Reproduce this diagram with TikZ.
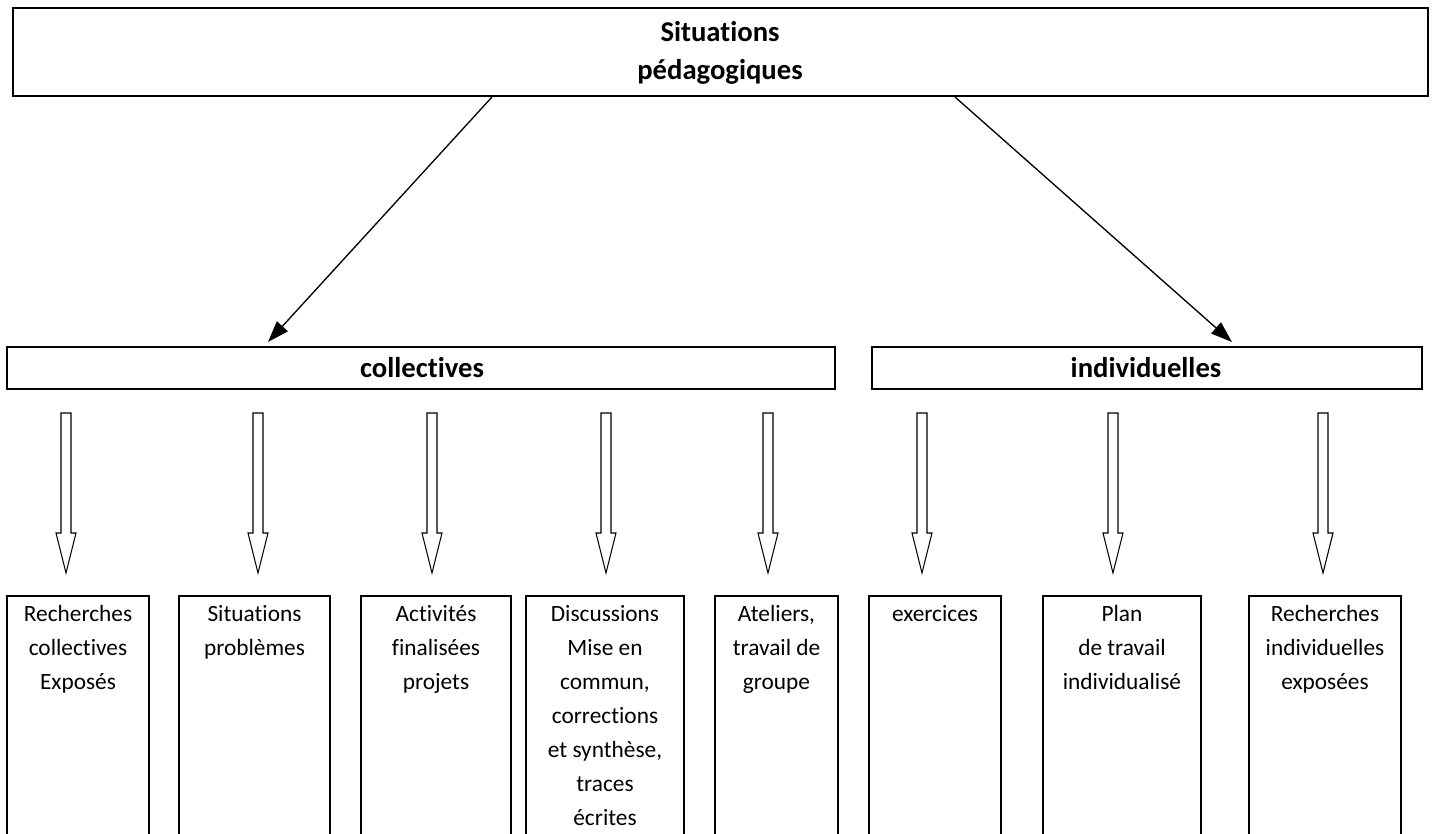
\documentclass[tikz,border=0pt]{standalone}
\usepackage{fontspec}
\setmainfont[Ligatures=NoCommon]{Carlito}
\usetikzlibrary{arrows.meta}
\tikzset{
  box/.style={draw, line width=1.5pt},
  txt/.style={font=\fontsize{17.5}{25.5}\selectfont, align=center, inner sep=0pt, anchor=north},
  head/.style={font=\fontsize{21.5}{28.5}\selectfont\bfseries, align=center, inner sep=0pt},
  conn/.style={line width=1pt, -{Triangle[length=16pt,width=11pt]}},
  pics/hollow/.style={code={
    \draw[line width=0.8pt, line join=miter] (-5,0) -- (5,0) -- (5,120) -- (10,120) -- (0,160) -- (-10,120) -- (-5,120) -- cycle;
  }}
}
\begin{document}
\begin{tikzpicture}[x=0.75pt,y=-0.75pt]
\useasboundingbox (0,0) rectangle (1440,833);
% top box
\node[box, minimum width=1415*0.75pt, minimum height=88*0.75pt, inner sep=0pt] (top) at (720.5,52) {};
\node[head] (toptxt) at (720,53) {Situations\\pédagogiques};
% second level
\node[box, minimum width=828*0.75pt, minimum height=42*0.75pt, inner sep=0pt] (coll) at (421,368) {};
\node[head] (colltxt) at (422,368) {collectives};
\node[box, minimum width=550*0.75pt, minimum height=42*0.75pt, inner sep=0pt] (indiv) at (1147,368) {};
\node[head] (indivtxt) at (1146,368) {individuelles};
% connectors
\coordinate (s1) at (492,97);
\coordinate (e1) at (268,342);
\coordinate (s2) at (955,97);
\coordinate (e2) at (1232,342);
\draw[conn] (s1) -- (e1);
\draw[conn] (s2) -- (e2);
% hollow arrows
\foreach \x in {66,258,432,606,768,922,1113,1323} {
  \pic at (\x,413) {hollow};
}
% bottom boxes
\foreach \a/\b in {7/149,179/330,361/511,526/684,715/838,869/1001,1043/1201,1249/1401} {
  \draw[box] (\a,850) -- (\a,596) -- (\b,596) -- (\b,850);
}
\node[txt] (b1) at (78,605) {Recherches\\collectives\\Exposés};
\node[txt] (b2) at (254.5,605) {Situations\\problèmes};
\node[txt] (b3) at (436,605) {Activités\\finalisées\\projets};
\node[txt] (b4) at (605,605) {Discussions\\Mise en\\commun,\\corrections\\et synthèse,\\traces\\écrites};
\node[txt] (b5) at (776.5,605) {Ateliers,\\travail de\\groupe};
\node[txt] (b6) at (935,605) {exercices};
\node[txt] (b7) at (1122,605) {Plan\\de travail\\individualisé};
\node[txt] (b8) at (1325,605) {Recherches\\individuelles\\exposées};
\end{tikzpicture}
\end{document}
